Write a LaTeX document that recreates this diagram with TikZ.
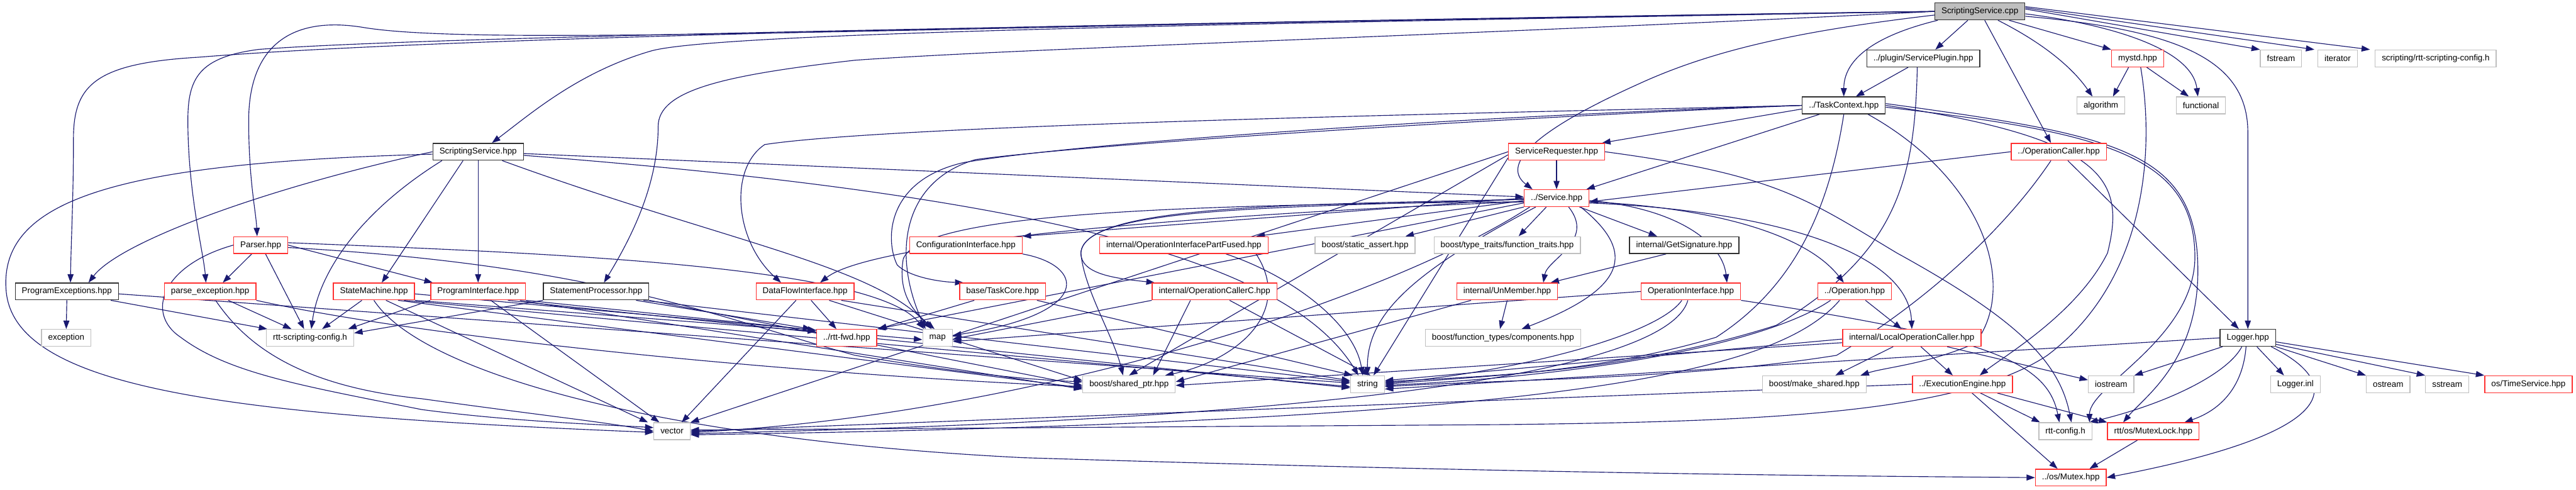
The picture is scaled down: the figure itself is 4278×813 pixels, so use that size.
\documentclass[tikz,border=0pt]{standalone}
\usepackage{fontspec}
\setmainfont{Liberation Sans}
\usetikzlibrary{arrows.meta}
\pgfdeclarelayer{bg}
\pgfdeclarelayer{edges}
\pgfsetlayers{bg,edges,main}
\definecolor{dxedge}{HTML}{191970}
\definecolor{dxred}{HTML}{FF3030}
\definecolor{dxgrey}{HTML}{BFBFBF}
\definecolor{dxblack}{HTML}{303030}
\definecolor{dxroot}{HTML}{BFBFBF}
\newcommand{\dxfont}{\fontsize{14}{16}\selectfont}
\tikzset{
  box/.style={draw, rectangle, minimum height=28pt, inner xsep=11pt, inner ysep=0pt, fill=white, line width=1.4pt, font=\dxfont, text=black},
  redbox/.style={box, draw=dxred},
  blkbox/.style={box, draw=dxblack},
  grybox/.style={box, draw=dxgrey},
  rootbox/.style={box, draw=dxblack, fill=dxroot},
  dep/.style={draw=dxedge, line width=1.2pt, -{Triangle[length=14pt,width=10pt]}}
}
\begin{document}
\begin{tikzpicture}[x=1pt,y=1pt]
\useasboundingbox (0,0) rectangle (4278,-813);
\begin{pgfonlayer}{bg}
\fill[white] (0,0) rectangle (4278,-813);
\end{pgfonlayer}
% nodes
\node[rootbox] (root) at (3288,-19) {ScriptingService.cpp};
\node[blkbox] (plugin) at (3194,-97) {../plugin/ServicePlugin.hpp};
\node[redbox] (mystd) at (3550,-97) {mystd.hpp};
\node[grybox] (fstream) at (3788,-97) {fstream};
\node[grybox] (iterator) at (3882,-97) {iterator};
\node[grybox] (scfg) at (4045,-97) {scripting/rtt-scripting-config.h};
\node[blkbox] (tc) at (3062,-175) {../TaskContext.hpp};
\node[grybox] (algo) at (3489,-175) {algorithm};
\node[grybox] (func) at (3655,-175) {functional};
\node[blkbox] (ssh) at (794,-252) {ScriptingService.hpp};
\node[redbox] (sreq) at (2585,-252) {ServiceRequester.hpp};
\node[redbox] (opc) at (3419,-252) {../OperationCaller.hpp};
\node[redbox] (svc) at (2585,-329) {../Service.hpp};
\node[redbox] (parser) at (433,-407) {Parser.hpp};
\node[redbox] (cfgi) at (1604,-407) {ConfigurationInterface.hpp};
\node[redbox] (oipf) at (1966,-407) {internal/OperationInterfacePartFused.hpp};
\node[grybox] (sassert) at (2267,-407) {boost/static\_assert.hpp};
\node[grybox] (ftraits) at (2503,-407) {boost/type\_traits/function\_traits.hpp};
\node[blkbox] (getsig) at (2797,-407) {internal/GetSignature.hpp};
\node[blkbox] (pexc) at (111,-484) {ProgramExceptions.hpp};
\node[redbox] (parseexc) at (349,-484) {parse\_exception.hpp};
\node[redbox] (sm) at (621,-484) {StateMachine.hpp};
\node[redbox] (pi) at (794,-484) {ProgramInterface.hpp};
\node[blkbox] (sp) at (990,-484) {StatementProcessor.hpp};
\node[redbox] (dfi) at (1337,-484) {DataFlowInterface.hpp};
\node[redbox] (tcore) at (1665,-484) {base/TaskCore.hpp};
\node[redbox] (occ) at (2017,-484) {internal/OperationCallerC.hpp};
\node[redbox] (unm) at (2503,-484) {internal/UnMember.hpp};
\node[redbox] (oi) at (2808,-484) {OperationInterface.hpp};
\node[redbox] (op) at (3080,-484) {../Operation.hpp};
\node[grybox] (exception) at (110,-561) {exception};
\node[grybox] (rscfg) at (515,-561) {rtt-scripting-config.h};
\node[redbox] (fwd) at (1406,-561) {../rtt-fwd.hpp};
\node[grybox] (map) at (1557,-561) {map};
\node[grybox] (comp) at (2496,-561) {boost/function\_types/components.hpp};
\node[redbox] (loc) at (3175,-561) {internal/LocalOperationCaller.hpp};
\node[blkbox] (logger) at (3733,-561) {Logger.hpp};
\node[grybox] (shptr) at (1875,-638) {boost/shared\_ptr.hpp};
\node[grybox] (string) at (2271,-638) {string};
\node[grybox] (mks) at (3013,-638) {boost/make\_shared.hpp};
\node[redbox] (ee) at (3259,-638) {../ExecutionEngine.hpp};
\node[grybox] (iostream) at (3506,-638) {iostream};
\node[grybox] (linl) at (3812,-638) {Logger.inl};
\node[grybox] (ostream) at (3966,-638) {ostream};
\node[grybox] (sstream) at (4064,-638) {sstream};
\node[redbox] (ts) at (4199,-638) {os/TimeService.hpp};
\node[grybox] (vector) at (1116,-716) {vector};
\node[grybox] (rcfg) at (3430,-716) {rtt-config.h};
\node[redbox] (mlock) at (3576,-716) {rtt/os/MutexLock.hpp};
\node[redbox] (mutex) at (3439,-793) {../os/Mutex.hpp};
\begin{pgfonlayer}{edges}
% root
\draw[dep] (root.west) .. controls (2000,-40) and (1180,-55) .. (1080,-85) .. controls (960,-120) and (880,-190) .. ([xshift=23pt]ssh.north);
\draw[dep] ([xshift=-20pt]root.south) -- ([xshift=20pt]plugin.north);
\draw[dep] ([xshift=-70pt]root.south) .. controls (3110,-60) and (3062,-100) .. (tc.north);
\draw[dep] ([xshift=8pt]root.south) -- ([xshift=-13pt]opc.north);
\draw[dep] ([xshift=30pt]root.south) .. controls (3390,-70) and (3440,-110) .. ([xshift=-14pt]algo.north);
\draw[dep] ([xshift=-27pt]root.south east) -- (mystd.north west);
\draw[dep] ([yshift=4pt]root.east) -- (fstream.north west);
\draw[dep] ([yshift=6pt]root.east) -- ([xshift=-5pt]iterator.north west);
\draw[dep] ([yshift=8pt]root.east) -- ([xshift=-8pt]scfg.north west);
\draw[dep] ([yshift=-4pt]root.east) .. controls (3500,-40) and (3640,-80) .. ([xshift=-5pt]func.north);
\draw[dep] ([yshift=-8pt]root.east) .. controls (3620,-50) and (3733,-100) .. (3733,-220) -- (logger.north);
\draw[dep] (root.west) .. controls (1600,-40) and (800,-80) .. (600,-45) .. controls (470,-25) and (413,-90) .. (413,-200) .. controls (413,-300) and (425,-350) .. ([xshift=-6pt]parser.north);
\draw[dep] (root.west) .. controls (1600,-42) and (700,-65) .. (330,-95) .. controls (160,-105) and (122,-140) .. (122,-230) .. controls (122,-330) and (118,-400) .. ([xshift=6pt]pexc.north);
\draw[dep] (root.west) .. controls (1600,-45) and (700,-62) .. (430,-82) .. controls (330,-95) and (312,-130) .. (312,-200) .. controls (312,-320) and (338,-420) .. ([xshift=-7pt]parseexc.north);
\draw[dep] (root.west) .. controls (2400,-60) and (1700,-80) .. (1420,-100) .. controls (1200,-125) and (1093,-150) .. (1093,-210) .. controls (1093,-310) and (1045,-400) .. ([xshift=13pt]sp.north);
\draw[dep] ([yshift=-6pt]root.west) .. controls (3000,-50) and (2850,-80) .. (2720,-140) .. controls (2520,-230) and (2500,-280) .. ([xshift=-40pt]svc.north);
% ScriptingService.hpp
\draw[dep] (ssh.west) .. controls (450,-310) and (200,-400) .. ([xshift=36pt]pexc.north);
\draw[dep] ([yshift=-4pt]ssh.west) .. controls (200,-270) and (0,-330) .. (10,-480) .. controls (20,-650) and (400,-690) .. ([yshift=-2pt]vector.west);
\draw[dep] ([xshift=-60pt]ssh.south) .. controls (600,-350) and (530,-450) .. ([xshift=2pt]rscfg.north);
\draw[dep] ([xshift=-25pt]ssh.south) -- ([xshift=13pt]sm.north);
\draw[dep] (ssh.south) -- (pi.north);
\draw[dep] ([yshift=-3pt]ssh.east) -- ([yshift=2pt]svc.west);
\draw[dep] ([yshift=-6pt]ssh.east) .. controls (1800,-330) and (2150,-450) .. ([xshift=-15pt]string.north);
\draw[dep] ([xshift=40pt]ssh.south) .. controls (1200,-400) and (1450,-440) .. ([xshift=-10pt]map.north);
% plugin
\draw[dep] ([xshift=-25pt]plugin.south) -- ([xshift=20pt]tc.north);
\draw[dep] ([xshift=-10pt]plugin.south) .. controls (3180,-300) and (3150,-420) .. (2950,-540) .. controls (2700,-620) and (2450,-625) .. ([yshift=4pt]string.east);
% mystd
\draw[dep] ([xshift=-15pt]mystd.south) -- ([xshift=20pt]algo.north);
\draw[dep] ([xshift=15pt]mystd.south) -- ([xshift=-20pt]func.north);
\draw[dep] ([xshift=5pt]mystd.south) .. controls (3580,-260) and (3560,-470) .. (3400,-590) .. controls (3250,-690) and (2900,-700) .. (2500,-705) -- ([yshift=2pt]vector.east);
% TaskContext
\draw[dep] ([yshift=-6pt]tc.west) -- ([xshift=-5pt]sreq.north east);
\draw[dep] ([xshift=-40pt]tc.south) -- ([xshift=-5pt]svc.north east);
\draw[dep] (tc.west) .. controls (2600,-185) and (1500,-205) .. (1270,-240) .. controls (1210,-280) and (1220,-400) .. ([xshift=-40pt]dfi.north);
\draw[dep] (tc.west) .. controls (2500,-190) and (1800,-235) .. (1600,-270) .. controls (1470,-300) and (1470,-400) .. (1490,-440) .. controls (1510,-460) and (1560,-468) .. ([xshift=-65pt]tcore.north);
\draw[dep] (tc.west) .. controls (2500,-195) and (1800,-240) .. (1620,-265) .. controls (1500,-300) and (1480,-420) .. ([xshift=-20pt]map.north);
\draw[dep] (tc.south) .. controls (3040,-330) and (2990,-470) .. (2850,-560) .. controls (2650,-620) and (2450,-625) .. (string.east);
\draw[dep] ([xshift=40pt]tc.south) .. controls (3300,-300) and (3350,-480) .. (3280,-570) .. controls (3200,-605) and (3130,-610) .. ([xshift=-10pt]mks.north east);
\draw[dep] (tc.east) .. controls (3500,-230) and (3530,-300) .. (3500,-420) .. controls (3450,-520) and (3330,-590) .. ([xshift=-55pt]ee.north east);
\draw[dep] ([yshift=-3pt]tc.east) .. controls (3500,-220) and (3640,-260) .. (3645,-420) .. controls (3650,-560) and (3470,-640) .. ([xshift=40pt]rcfg.north);
\draw[dep] ([yshift=3pt]tc.east) .. controls (3520,-225) and (3650,-250) .. (3650,-450) .. controls (3650,-600) and (3560,-660) .. ([xshift=-50pt]mlock.north);
% ServiceRequester
\draw[dep] (sreq.south) -- (svc.north);
\draw[dep] (sreq.west) -- (vector.north east);
\draw[dep] ([yshift=-5pt]sreq.west) -- (shptr.north);
\draw[dep] ([yshift=-10pt]sreq.west) -- ([xshift=10pt]string.north);
\draw[dep] (sreq.east) .. controls (2950,-290) and (3000,-330) .. (3150,-420) .. controls (3350,-530) and (3420,-600) .. ([xshift=10pt]rcfg.north);
% OperationCaller
\draw[dep] (opc.west) -- ([yshift=-6pt]svc.east);
\draw[dep] ([xshift=15pt]opc.south) -- ([xshift=-15pt]logger.north);
\draw[dep] ([xshift=-13pt]opc.south) .. controls (3330,-380) and (3200,-500) .. (3050,-590) .. controls (2800,-630) and (2500,-630) .. ([yshift=-4pt]string.east);
% Service
\draw[dep] (svc.west) -- (cfgi.north east);
\draw[dep] ([yshift=-4pt]svc.west) -- ([xshift=-20pt]oipf.north east);
\draw[dep] (svc.south west) -- ([xshift=67pt]sassert.north);
\draw[dep] ([xshift=-17pt]svc.south) -- ([xshift=19pt]ftraits.north);
\draw[dep] ([xshift=38pt]svc.south) -- ([xshift=-45pt]getsig.north);
\draw[dep] ([xshift=20pt]svc.south) .. controls (2650,-400) and (2570,-430) .. ([xshift=60pt]unm.north);
\draw[dep] ([yshift=-2pt]svc.west) .. controls (2150,-340) and (1800,-340) .. (1795,-420) .. controls (1795,-455) and (1850,-462) .. ([xshift=5pt]occ.north west);
\draw[dep] ([yshift=-2pt]svc.west) .. controls (2100,-345) and (1800,-345) .. (1795,-420) .. controls (1800,-480) and (1850,-560) .. ([xshift=-10pt]shptr.north);
\draw[dep] ([yshift=-6pt]svc.west) .. controls (2000,-340) and (1530,-350) .. (1500,-430) .. controls (1490,-490) and (1520,-520) .. ([xshift=-5pt]map.north);
\draw[dep] ([yshift=-8pt]svc.west) -- (fwd.north east);
\draw[dep] ([yshift=-6pt]svc.west) .. controls (2000,-355) and (1450,-400) .. ([xshift=25pt]dfi.north);
\draw[dep] ([xshift=10pt]svc.south west) .. controls (2300,-500) and (1700,-690) .. ([yshift=-2pt]vector.east);
\draw[dep] ([xshift=20pt]svc.south west) .. controls (2350,-450) and (2270,-520) .. (string.north);
\draw[dep] ([yshift=-4pt]svc.east) .. controls (2780,-345) and (2860,-400) .. ([xshift=60pt]oi.north);
\draw[dep] ([yshift=-6pt]svc.east) .. controls (2850,-345) and (3000,-390) .. ([xshift=-18pt]op.north);
\draw[dep] ([yshift=-8pt]svc.east) .. controls (2950,-350) and (3170,-420) .. (loc.north);
\draw[dep] ([xshift=40pt]svc.south) .. controls (2720,-420) and (2700,-480) .. ([xshift=31pt]comp.north);
% DataFlowInterface
\draw[dep] ([xshift=10pt]dfi.south) -- ([xshift=-17pt]fwd.north);
\draw[dep] ([xshift=-15pt]dfi.south) -- ([xshift=16pt]vector.north);
\draw[dep] ([xshift=40pt]dfi.south) -- ([yshift=6pt]shptr.west);
\draw[dep] ([xshift=60pt]dfi.south) -- ([yshift=6pt]string.west);
% Parser
\draw[dep] ([xshift=-15pt]parser.south) -- ([xshift=21pt]parseexc.north);
\draw[dep] ([xshift=8pt]parser.south) -- ([xshift=-10pt]rscfg.north);
\draw[dep] (parser.east) -- ([xshift=4pt]pi.north west);
\draw[dep] (parser.west) .. controls (270,-440) and (240,-520) .. (300,-560) .. controls (380,-620) and (500,-640) .. (700,-680) .. controls (850,-700) and (1000,-705) .. ([yshift=6pt]vector.west);
\draw[dep] ([yshift=4pt]parser.east) .. controls (900,-420) and (1450,-440) .. ([xshift=3pt]map.north west);
\draw[dep] ([yshift=-4pt]parser.east) .. controls (1000,-440) and (1200,-530) .. (1420,-590) .. controls (1600,-620) and (1700,-630) .. ([yshift=4pt]shptr.west);
% ProgramExceptions
\draw[dep] (pexc.south) -- (exception.north);
\draw[dep] ([xshift=73pt]pexc.south) -- ([xshift=2pt]rscfg.north west);
\draw[dep] ([yshift=-4pt]pexc.east) -- ([yshift=2pt]string.west);
% parse_exception
\draw[dep] ([xshift=30pt]parseexc.south) -- ([xshift=-31pt]rscfg.north);
\draw[dep] ([xshift=9pt]parseexc.south) .. controls (400,-560) and (480,-640) .. (700,-662) .. controls (900,-690) and (1000,-700) .. (vector.west);
\draw[dep] (parseexc.south east) .. controls (700,-560) and (1300,-620) .. ([yshift=-4pt]shptr.west);
% StateMachine
\draw[dep] ([xshift=-20pt]sm.south) -- ([xshift=20pt]rscfg.north);
\draw[dep] (sm.south east) -- ([yshift=-4pt]fwd.north west);
\draw[dep] ([yshift=-4pt]sm.east) -- ([yshift=-3pt]map.west);
\draw[dep] ([xshift=20pt]sm.south) -- ([xshift=-40pt]vector.north);
\draw[dep] ([xshift=40pt]sm.south) -- ([yshift=-6pt]shptr.west);
\draw[dep] ([xshift=50pt]sm.south) -- ([yshift=-4pt]string.west);
\draw[dep] (sm.south) .. controls (700,-620) and (1100,-730) .. (1700,-760) .. controls (2500,-785) and (3000,-790) .. (mutex.west);
% ProgramInterface
\draw[dep] (pi.south west) -- ([xshift=-10pt]rscfg.north east);
\draw[dep] ([xshift=21pt]pi.south) -- ([xshift=-21pt]vector.north);
\draw[dep] (pi.south east) -- ([yshift=-2pt]fwd.north west);
\draw[dep] ([xshift=-10pt]pi.south east) -- ([yshift=-8pt]shptr.west);
\draw[dep] ([xshift=-30pt]pi.south east) -- ([yshift=-6pt]string.west);
% StatementProcessor
\draw[dep] (sp.south west) -- ([yshift=8pt]rscfg.east);
\draw[dep] ([xshift=-22pt]sp.south east) -- ([xshift=-8pt]fwd.north west);
\draw[dep] (sp.south east) -- ([yshift=-2pt]shptr.west);
\draw[dep] ([xshift=-10pt]sp.south east) -- ([yshift=4pt]string.west);
% TaskCore
\draw[dep] ([xshift=-47pt]tcore.south) -- ([xshift=2pt]fwd.north east);
\draw[dep] ([xshift=-15pt]tcore.south east) -- ([xshift=4pt]string.north west);
% OperationCallerC
\draw[dep] (occ.south west) -- ([yshift=-2pt]map.east);
\draw[dep] ([xshift=25pt]occ.south) -- ([xshift=5pt]string.north);
\draw[dep] ([xshift=-40pt]occ.south) -- ([xshift=40pt]shptr.north);
% ConfigurationInterface
\draw[dep] (cfgi.south east) .. controls (1800,-440) and (1820,-520) .. ([yshift=4pt]map.east);
% OperationInterfacePartFused
\draw[dep] ([xshift=70pt]oipf.south) .. controls (2150,-460) and (2250,-540) .. ([xshift=-8pt]string.north);
\draw[dep] ([xshift=120pt]oipf.south) .. controls (2150,-520) and (2050,-600) .. ([xshift=60pt]shptr.north);
% UnMember / GetSignature
\draw[dep] (unm.south) -- ([xshift=-5pt]comp.north);
\draw[dep] ([xshift=-60pt]unm.south) -- ([yshift=4pt]shptr.east);
\draw[dep] ([xshift=-30pt]getsig.south) -- ([xshift=72pt]unm.north);
% OperationInterface
\draw[dep] (oi.west) -- ([yshift=-6pt]map.east);
\draw[dep] ([xshift=-15pt]oi.south) .. controls (2750,-560) and (2500,-620) .. ([yshift=2pt]string.east);
\draw[dep] ([xshift=-5pt]oi.south) .. controls (2780,-580) and (2500,-690) .. ([yshift=-4pt]vector.east);
\draw[dep] (oi.south east) .. controls (3300,-560) and (3400,-600) .. ([xshift=-10pt]rcfg.north);
% Operation
\draw[dep] ([xshift=18pt]op.south) -- ([xshift=-17pt]loc.north);
\draw[dep] ([xshift=-40pt]op.south) .. controls (2950,-560) and (2700,-620) .. ([yshift=-2pt]string.east);
\draw[dep] ([xshift=-25pt]op.south) .. controls (2950,-620) and (2600,-700) .. ([yshift=-6pt]vector.east);
% LocalOperationCaller
\draw[dep] ([xshift=-31pt]loc.south) -- ([xshift=35pt]mks.north);
\draw[dep] ([xshift=15pt]loc.south) -- ([xshift=-16pt]ee.north);
\draw[dep] ([xshift=-57pt]loc.south east) -- ([yshift=7pt]iostream.west);
\draw[dep] ([yshift=-2pt]loc.west) -- ([yshift=6pt]string.east);
\draw[dep] ([yshift=-8pt]loc.west) -- ([yshift=-2pt]shptr.east);
% ExecutionEngine
\draw[dep] ([xshift=30pt]ee.south) -- ([xshift=-42pt]rcfg.north);
\draw[dep] ([xshift=58pt]ee.south) -- (mlock.north west);
\draw[dep] ([xshift=16pt]ee.south) -- ([xshift=-22pt]mutex.north);
\draw[dep] (ee.west) -- (vector.east);
% MutexLock
\draw[dep] ([xshift=-26pt]mlock.south) -- ([xshift=31pt]mutex.north);
% Logger
\draw[dep] ([xshift=-42pt]logger.south) -- (iostream.north east);
\draw[dep] ([xshift=15pt]logger.south) -- ([xshift=-19pt]linl.north);
\draw[dep] (logger.south east) -- (ostream.north west);
\draw[dep] ([yshift=4pt]logger.south east) -- (sstream.north west);
\draw[dep] ([yshift=8pt]logger.south east) -- (ts.north west);
\draw[dep] ([xshift=-10pt]logger.south) .. controls (3700,-620) and (3600,-670) .. ([xshift=-5pt]rcfg.north east);
\draw[dep] ([xshift=-3pt]logger.south) .. controls (3725,-640) and (3690,-680) .. ([xshift=-25pt]mlock.north east);
\draw[dep] ([xshift=-8pt]logger.south east) .. controls (3900,-640) and (3880,-720) .. (mutex.east);
\draw[dep] (logger.west) -- ([yshift=-8pt]string.east);
\end{pgfonlayer}
\end{tikzpicture}
\end{document}
